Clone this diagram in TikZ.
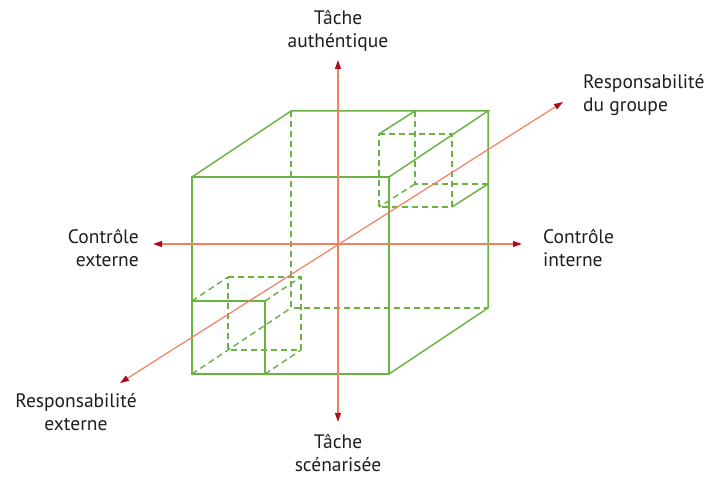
\documentclass[tikz,border=0pt]{standalone}
\usepackage{fontspec}
\setmainfont{PT Sans}
\usetikzlibrary{arrows.meta}
\definecolor{cubegreen}{RGB}{106,178,66}
\definecolor{axisline}{RGB}{242,128,96}
\definecolor{tipred}{RGB}{172,12,32}
\definecolor{txt}{RGB}{30,30,30}
\begin{document}
\begin{tikzpicture}[x=1pt,y=-1pt,
  solidedge/.style={cubegreen,line width=1.5pt},
  hidden/.style={cubegreen,line width=1.5pt,dash pattern=on 6pt off 4pt},
  axis/.style={axisline,line width=1.2pt,
    {Triangle[length=9pt,width=6pt,color=tipred]}-{Triangle[length=9pt,width=6pt,color=tipred]}},
  lbl/.style={font=\fontsize{19.5}{23.5}\selectfont, text=txt, inner sep=0pt}]
\useasboundingbox (0,0) rectangle (716,478);
% big cube
\coordinate (Ftl) at (192,177); \coordinate (Ftr) at (389,177);
\coordinate (Fbr) at (389,374); \coordinate (Fbl) at (192,374);
\coordinate (Btl) at (291,111); \coordinate (Btr) at (488,111);
\coordinate (Bbr) at (488,308); \coordinate (Bbl) at (291,308);
% top-right small cube
\coordinate (aFtl) at (379,134); \coordinate (aFtr) at (452,134);
\coordinate (aFbr) at (452,207); \coordinate (aFbl) at (379,207);
\coordinate (aBtl) at (415,111); \coordinate (aBbr) at (488,184);
\coordinate (aBbl) at (415,184);
% bottom-left small cube
\coordinate (bFtl) at (192,301); \coordinate (bFtr) at (265,301);
\coordinate (bFbr) at (265,374);
\coordinate (bBtl) at (228,277); \coordinate (bBtr) at (301,277);
\coordinate (bBbr) at (301,350); \coordinate (bBbl) at (228,350);
% hidden edges
\draw[hidden] (Btl) -- (Bbl) -- (Bbr);
\draw[hidden] (Fbl) -- (Bbl);
\draw[hidden] (aFtl) -- (aFtr) -- (aFbr) -- (aFbl) -- cycle;
\draw[hidden] (aBtl) -- (aBbl) -- (aBbr);
\draw[hidden] (aBbl) -- (aFbl);
\draw[hidden] (bBtl) -- (bBtr) -- (bBbr) -- (bBbl) -- cycle;
\draw[hidden] (bFtl) -- (bBtl);
\draw[hidden] (bFtr) -- (bBtr);
\draw[hidden] (bFbr) -- (bBbr);
% visible edges
\draw[solidedge] (Ftl) -- (Ftr) -- (Fbr) -- (Fbl) -- cycle;
\draw[solidedge] (Ftl) -- (Btl) -- (Btr) -- (Ftr);
\draw[solidedge] (Btr) -- (Bbr) -- (Fbr);
\draw[solidedge] (aBtl) -- (aFtl);
\draw[solidedge] (aBbr) -- (aFbr);
\draw[solidedge] (bFtl) -- (bFtr) -- (bFbr);
% axes
\coordinate (ctr) at (338,244);
\coordinate (tipU) at (338,60); \coordinate (tipD) at (338,422);
\coordinate (tipL) at (153,244); \coordinate (tipR) at (522,244);
\coordinate (tipUR) at (563,102); \coordinate (tipDL) at (120,383);
\draw[axis] (tipL) -- (tipR);
\draw[axis] (tipU) -- (tipD);
\draw[axis] (tipDL) -- (tipUR);
% labels
\node[lbl, align=center] (tAuth) at (338,31) {Tâche\\authéntique};
\node[lbl, align=center] (tScen) at (338,453) {Tâche\\scénarisée};
\node[lbl, align=right, anchor=east] (cExt) at (139,248) {Contrôle\\externe};
\node[lbl, align=left, anchor=west] (cInt) at (543,248) {Contrôle\\interne};
\node[lbl, align=left, anchor=west] (rGrp) at (583,95) {Responsabilité\\du groupe};
\node[lbl, align=center] (rExt) at (76,412) {Responsabilité\\externe};
\end{tikzpicture}
\end{document}
